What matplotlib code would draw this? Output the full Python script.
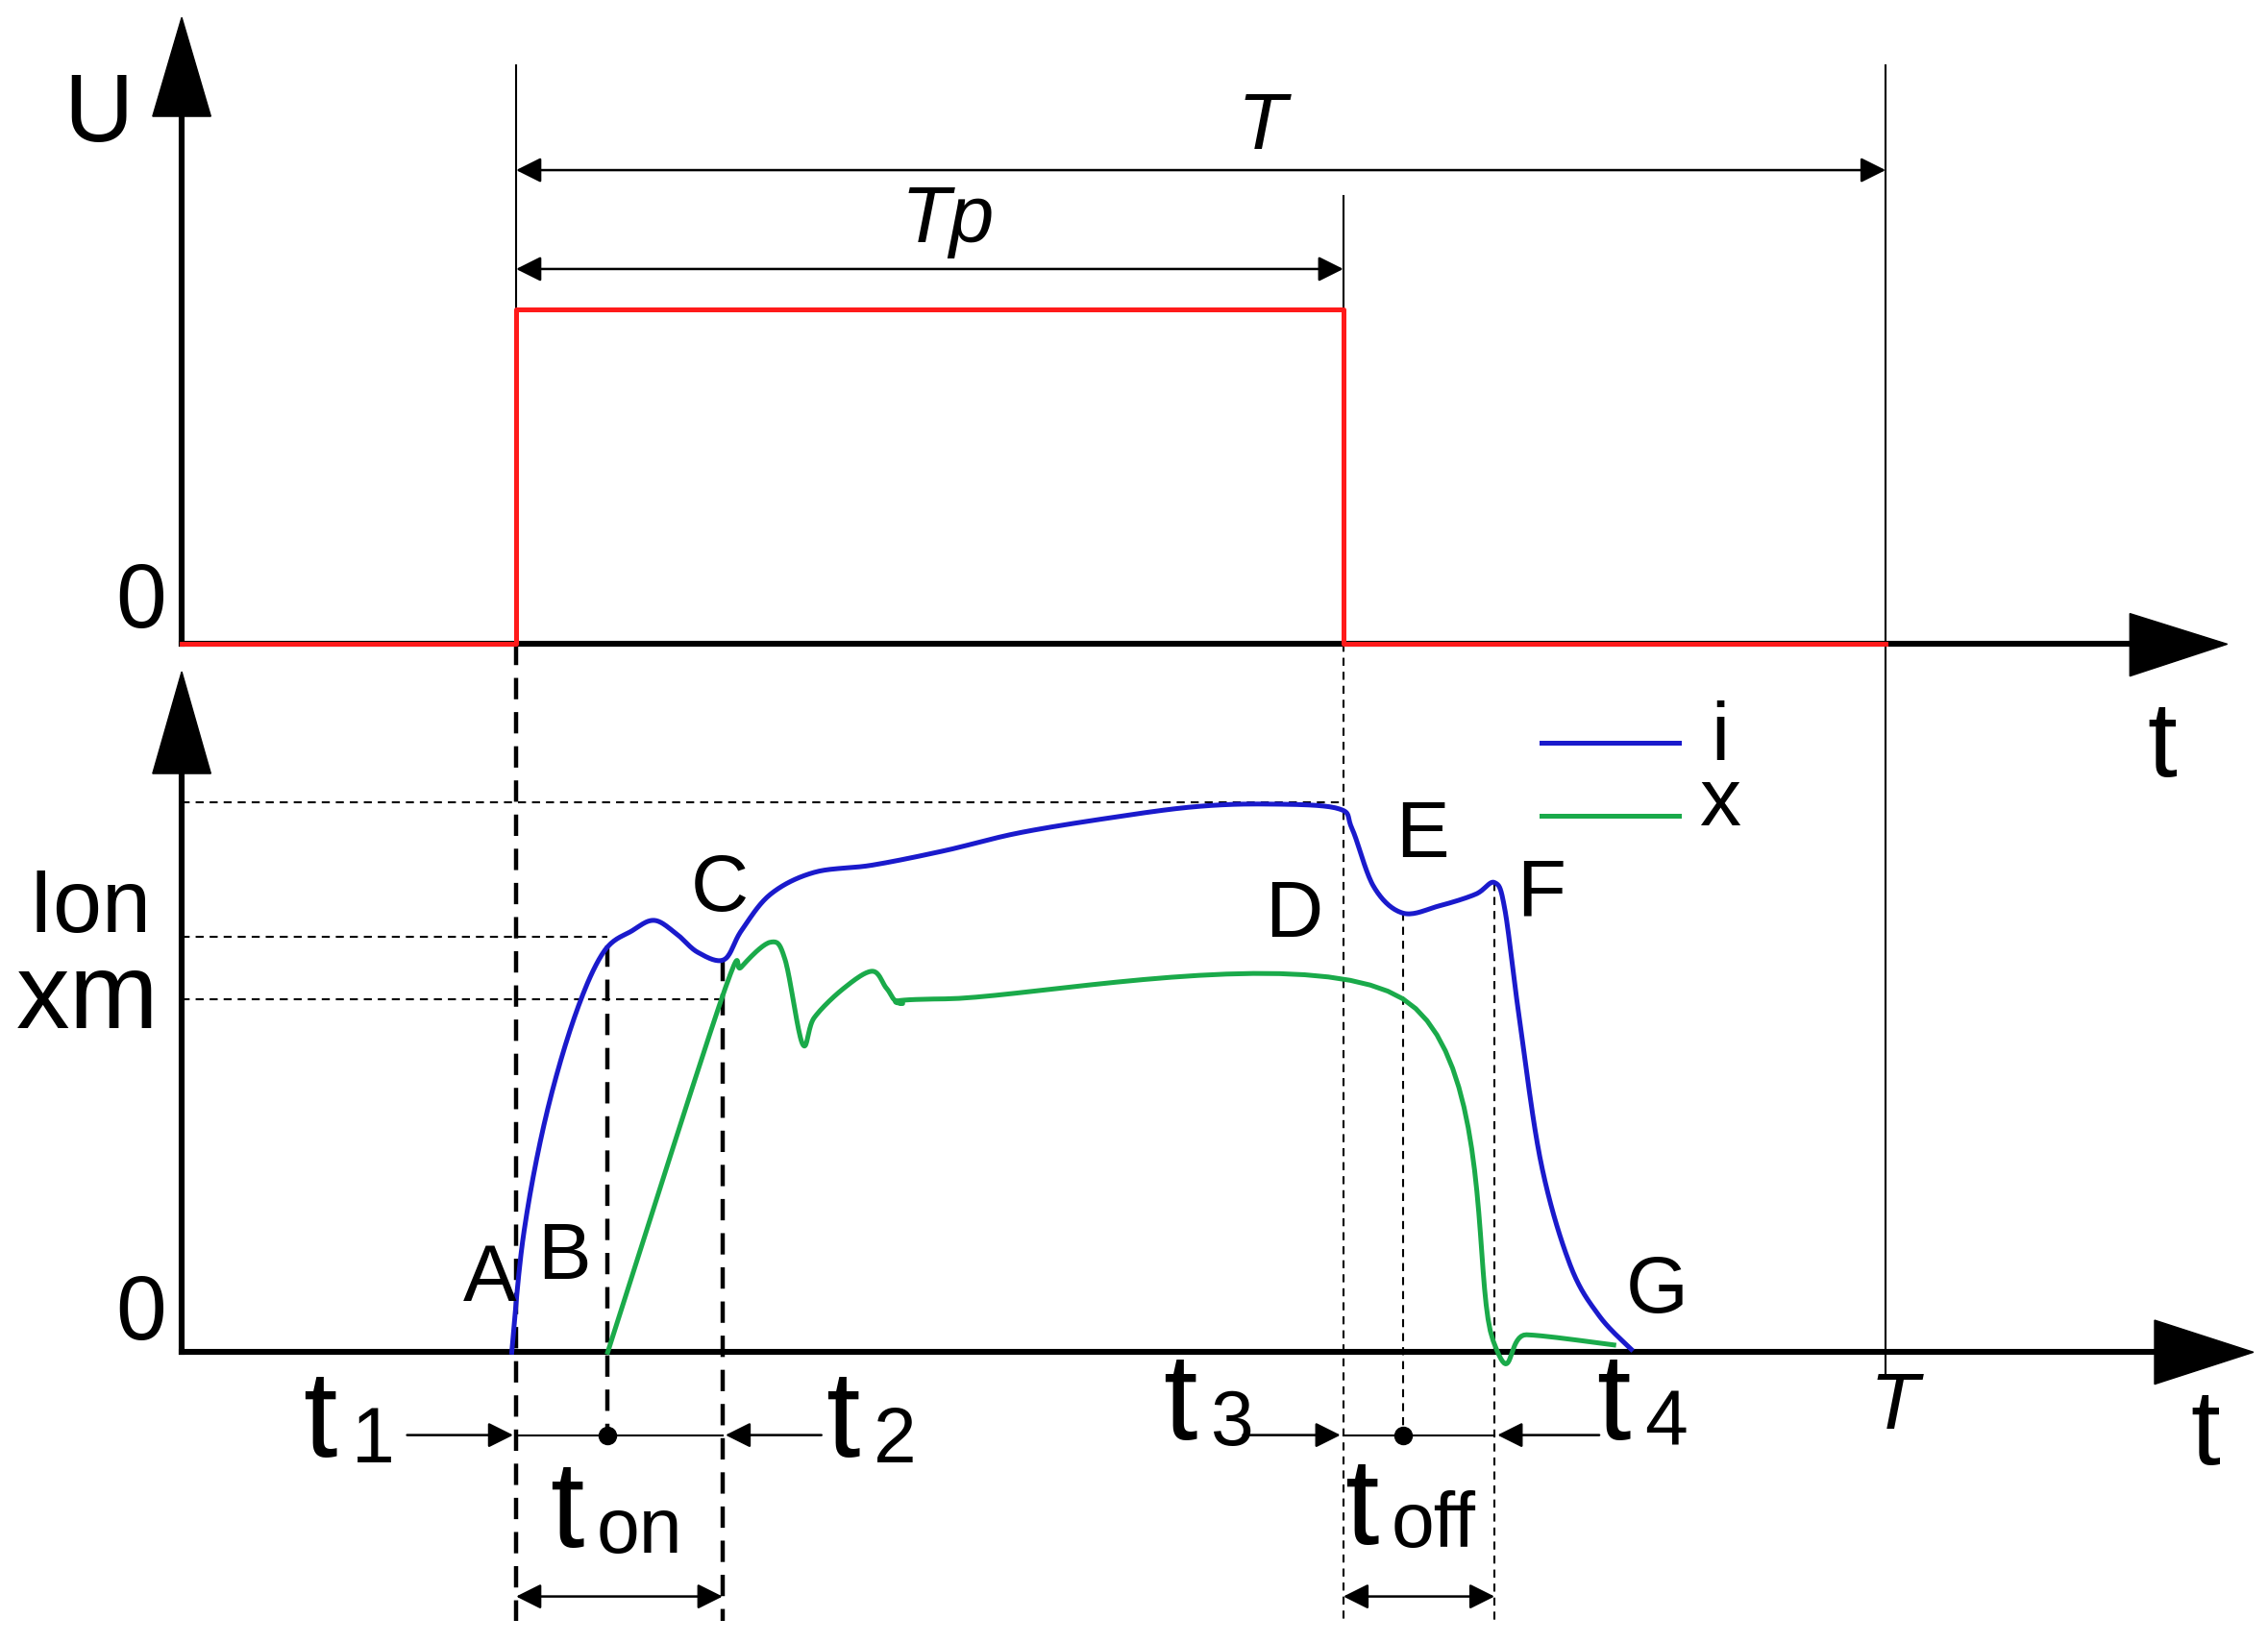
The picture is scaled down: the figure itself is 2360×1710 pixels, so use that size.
import matplotlib
matplotlib.use("Agg")
import matplotlib.pyplot as plt
import numpy as np

plt.rcParams['font.family'] = ['Liberation Sans', 'DejaVu Sans']

# Data (diagram coordinates: x = time position, y = vertical position, image-like)
pulse_t = [125, 355, 355, 924, 924, 1297]
pulse_v = [443, 443, 213, 213, 443, 443]

i_t = [352, 360, 375, 395, 415, 435, 450, 465, 480, 498, 510, 530, 560, 600, 650, 700, 760, 820,
       870, 920, 930, 945, 965, 990, 1015, 1028, 1035, 1045, 1060, 1080, 1100, 1122]
i_v = [930, 850, 770, 700, 655, 640, 633, 642, 655, 660, 640, 615, 600, 595, 585, 573, 563, 555,
       553, 556, 570, 610, 628, 623, 615, 607, 625, 700, 800, 870, 905, 928]

x_t = [418, 497, 510, 530, 540, 552, 560, 580, 600, 610, 620, 650, 965, 1027, 1050, 1110]
x_v = [930, 685, 665, 648, 660, 718, 700, 680, 668, 680, 690, 687, 687, 922, 918, 925]


def smooth(px, py, n=20):
    px = np.asarray(px, float); py = np.asarray(py, float)
    P = np.column_stack([px, py])
    P = np.vstack([P[0], P, P[-1]])
    out = []
    for k in range(1, len(P) - 2):
        p0, p1, p2, p3 = P[k - 1], P[k], P[k + 1], P[k + 2]
        for s in np.linspace(0, 1, n, endpoint=False):
            out.append(0.5 * ((2 * p1) + (-p0 + p2) * s + (2 * p0 - 5 * p1 + 4 * p2 - p3) * s ** 2
                              + (-p0 + 3 * p1 - 3 * p2 + p3) * s ** 3))
    out.append(P[-2])
    out = np.array(out)
    return out[:, 0], out[:, 1]


fig = plt.figure(figsize=(23.6, 17.1), dpi=100)
ax = fig.add_axes([0, 0, 1, 1])
ax.set_xlim(0, 1560)
ax.set_ylim(1130, 0)
ax.axis('off')

K = 'black'
aw = 4.4
# axes
ax.plot([125, 125], [443, 60], color=K, lw=aw)
ax.add_patch(plt.Polygon([[105, 80], [145, 80], [125, 12]], color=K))
ax.plot([125, 1470], [443, 443], color=K, lw=aw)
ax.add_patch(plt.Polygon([[1465, 422], [1465, 465], [1532, 443]], color=K))
ax.plot([125, 125], [930, 530], color=K, lw=aw)
ax.add_patch(plt.Polygon([[105, 532], [145, 532], [125, 462]], color=K))
ax.plot([125, 1485], [930, 930], color=K, lw=aw)
ax.add_patch(plt.Polygon([[1482, 908], [1482, 952], [1550, 930]], color=K))

# thin solid verticals
ax.plot([355, 355], [45, 443], color=K, lw=1.5)
ax.plot([924, 924], [135, 443], color=K, lw=1.5)
ax.plot([1297, 1297], [45, 945], color=K, lw=1.5)

# dashed guides
ax.plot([355, 355], [443, 1115], color=K, lw=3.2, ls=(0, (5, 3)))
ax.plot([418, 418], [650, 985], color=K, lw=3.2, ls=(0, (5, 3)))
ax.plot([497, 497], [660, 1115], color=K, lw=3.2, ls=(0, (5, 3)))
for xx, y0 in [(924, 443), (965, 628), (1028, 607)]:
    y1 = 1115 if xx != 965 else 985
    ax.plot([xx, xx], [y0, y1], color=K, lw=1.5, ls=(0, (4, 3)))
ax.plot([125, 924], [552, 552], color=K, lw=1.5, ls=(0, (4, 3)))
ax.plot([125, 418], [644, 644], color=K, lw=1.5, ls=(0, (4, 3)))
ax.plot([125, 497], [687, 687], color=K, lw=1.5, ls=(0, (4, 3)))

# pulse
ax.plot(pulse_t, pulse_v, color='#ff1a1a', lw=3.6)

# curves
bx, by = smooth(i_t, i_v)
ax.plot(bx, by, color='#1a1acc', lw=3.6)
gx, gy = smooth(x_t, x_v)
ax.plot(gx, gy, color='#1aaa4a', lw=3.6)


def darrow(x0, x1, y):
    ax.annotate('', xy=(x0, y), xytext=(x1, y),
                arrowprops=dict(arrowstyle='<|-|>', color=K, lw=1.8, mutation_scale=40, shrinkA=0, shrinkB=0))


def arrow(x0, x1, y):
    ax.annotate('', xy=(x1, y), xytext=(x0, y),
                arrowprops=dict(arrowstyle='-|>', color=K, lw=1.8, mutation_scale=40, shrinkA=0, shrinkB=0))


darrow(355, 1297, 117)
darrow(355, 924, 185)
darrow(355, 497, 1098)
darrow(924, 1028, 1098)
arrow(280, 353, 987)
arrow(565, 499, 987)
arrow(855, 922, 987)
arrow(1100, 1030, 987)
ax.plot([355, 497], [987, 987], color=K, lw=1.5)
ax.plot([924, 1028], [987, 987], color=K, lw=1.5)
ax.plot([418], [987], 'o', color=K, ms=13)
ax.plot([965], [987], 'o', color=K, ms=13)

# legend
ax.plot([1060, 1155], [511, 511], color='#1a1acc', lw=3.6)
ax.plot([1060, 1155], [561, 561], color='#1aaa4a', lw=3.6)


def T(x, y, s, fs, **kw):
    ax.text(x, y, s, fontsize=fs, ha='center', va='center', **kw)


T(1183, 508, 'i', 62)
T(1183, 553, 'x', 62)
T(68, 80, 'U', 72)
T(97, 415, '0', 68)
T(97, 905, '0', 68)
T(1487, 515, 't', 80)
T(1517, 988, 't', 80)
T(60, 625, r'I$\mathregular{on}$', 66)
T(58, 688, r'x$\mathregular{m}$', 80)
for s, x, y in [('A', 337, 880), ('B', 388, 865), ('C', 495, 612), ('D', 890, 630),
                ('E', 978, 575), ('F', 1060, 615), ('G', 1140, 888)]:
    T(x, y, s, 60)
T(868, 88, 'T', 60, style='italic')
T(652, 152, 'Tp', 60, style='italic')
T(1303, 968, 'T', 60, style='italic')
ax.text(208, 980, 't', fontsize=92, ha='left', va='center')
ax.text(242, 992, '1', fontsize=58, ha='left', va='center')
ax.text(568, 980, 't', fontsize=92, ha='left', va='center')
ax.text(601, 992, '2', fontsize=58, ha='left', va='center')
ax.text(800, 968, 't', fontsize=92, ha='left', va='center')
ax.text(833, 980, '3', fontsize=58, ha='left', va='center')
ax.text(1098, 968, 't', fontsize=92, ha='left', va='center')
ax.text(1131, 980, '4', fontsize=58, ha='left', va='center')
ax.text(378, 1042, 't', fontsize=92, ha='left', va='center')
ax.text(410, 1054, 'on', fontsize=58, ha='left', va='center')
ax.text(925, 1040, 't', fontsize=92, ha='left', va='center')
ax.text(957, 1050, 'off', fontsize=58, ha='left', va='center')

fig.savefig('out.png', dpi=100)
